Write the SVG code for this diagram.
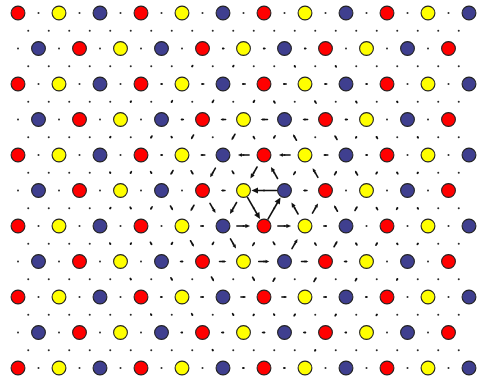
<svg xmlns="http://www.w3.org/2000/svg" xmlns:xlink="http://www.w3.org/1999/xlink" width="477" height="380" viewBox="0 0 477 380">
<style>
.R,.Y,.B{stroke:#222;stroke-width:1.1}
.R{fill:#ff0000}.Y{fill:#ffff00}.B{fill:#3f3f8f}
.dot{fill:#2a2a2a}
.sh{fill:none;stroke:#111;stroke-width:1.6;stroke-linecap:round;vector-effect:non-scaling-stroke}
.hd{fill:#111}
</style>
<defs>
<pattern id="dp" patternUnits="userSpaceOnUse" x="0" y="0" width="41" height="71">
<circle class="dot" cx="38.5" cy="13" r="1"/>
<circle class="dot" cx="28.25" cy="30.75" r="1"/>
<circle class="dot" cx="7.75" cy="30.75" r="1"/>
<circle class="dot" cx="18" cy="48.5" r="1"/>
<circle class="dot" cx="28.25" cy="66.25" r="1"/>
<circle class="dot" cx="7.75" cy="66.25" r="1"/>
</pattern>
<g id="a"><path class="sh" d="M-5 0H2"/><path class="hd" d="M5 0L1.4-1.6V1.6Z"/></g>
<g id="A"><path class="sh" d="M-5 0H3"/><path class="hd" d="M5 0L2.4-1.2V1.2Z"/></g>
</defs>
<rect width="477" height="380" fill="#fff"/>
<rect id="sites" x="15" y="9" width="447" height="363" fill="url(#dp)"/>
<g id="connectors">
<use href="#a" transform="translate(264 48.5) rotate(180) scale(.19)"/>
<use href="#a" transform="translate(223 48.5) rotate(180) scale(.165)"/>
<use href="#a" transform="translate(305 48.5) rotate(180) scale(.165)"/>
<use href="#a" transform="translate(243.5 84) rotate(180) scale(.34)"/>
<use href="#a" transform="translate(284.5 84) rotate(180) scale(.34)"/>
<use href="#a" transform="translate(202.5 84) rotate(180) scale(.243)"/>
<use href="#a" transform="translate(325.5 84) rotate(180) scale(.243)"/>
<use href="#a" transform="translate(161.5 84) rotate(180) scale(.136)"/>
<use href="#a" transform="translate(366.5 84) rotate(180) scale(.136)"/>
<use href="#a" transform="translate(264 119.5) rotate(180) scale(.688)"/>
<use href="#a" transform="translate(223 119.5) rotate(180) scale(.518)"/>
<use href="#a" transform="translate(305 119.5) rotate(180) scale(.518)"/>
<use href="#a" transform="translate(182 119.5) rotate(180) scale(.264)"/>
<use href="#a" transform="translate(346 119.5) rotate(180) scale(.264)"/>
<use href="#a" transform="translate(243.5 155) rotate(180) scale(1.114)"/>
<use href="#a" transform="translate(284.5 155) rotate(180) scale(1.114)"/>
<use href="#a" transform="translate(202.5 155) rotate(180) scale(.461)"/>
<use href="#a" transform="translate(325.5 155) rotate(180) scale(.461)"/>
<use href="#a" transform="translate(161.5 155) rotate(180) scale(.167)"/>
<use href="#a" transform="translate(366.5 155) rotate(180) scale(.167)"/>
<use href="#A" transform="translate(264 190.5) rotate(180) scale(2.5)"/>
<use href="#a" transform="translate(223 190.5) rotate(180) scale(.395)"/>
<use href="#a" transform="translate(305 190.5) rotate(180) scale(.395)"/>
<use href="#a" transform="translate(243.5 226) scale(1.327)"/>
<use href="#a" transform="translate(284.5 226) scale(1.327)"/>
<use href="#a" transform="translate(202.5 226) scale(.336)"/>
<use href="#a" transform="translate(325.5 226) scale(.336)"/>
<use href="#a" transform="translate(264 261.5) scale(1.057)"/>
<use href="#a" transform="translate(223 261.5) scale(.688)"/>
<use href="#a" transform="translate(305 261.5) scale(.688)"/>
<use href="#a" transform="translate(182 261.5) scale(.288)"/>
<use href="#a" transform="translate(346 261.5) scale(.288)"/>
<use href="#a" transform="translate(243.5 297) scale(.521)"/>
<use href="#a" transform="translate(284.5 297) scale(.521)"/>
<use href="#a" transform="translate(202.5 297) scale(.334)"/>
<use href="#a" transform="translate(325.5 297) scale(.334)"/>
<use href="#a" transform="translate(161.5 297) scale(.166)"/>
<use href="#a" transform="translate(366.5 297) scale(.166)"/>
<use href="#a" transform="translate(264 332.5) scale(.291)"/>
<use href="#a" transform="translate(223 332.5) scale(.247)"/>
<use href="#a" transform="translate(305 332.5) scale(.247)"/>
<use href="#a" transform="translate(182 332.5) scale(.16)"/>
<use href="#a" transform="translate(346 332.5) scale(.16)"/>
<use href="#a" transform="translate(243.5 368) scale(.147)"/>
<use href="#a" transform="translate(284.5 368) scale(.147)"/>
<use href="#a" transform="translate(233.25 66.25) rotate(120) scale(.166)"/>
<use href="#a" transform="translate(294.75 66.25) rotate(240) scale(.166)"/>
<use href="#a" transform="translate(192.25 66.25) rotate(120) scale(.16)"/>
<use href="#a" transform="translate(335.75 66.25) rotate(240) scale(.16)"/>
<use href="#a" transform="translate(253.75 101.75) rotate(120) scale(.288)"/>
<use href="#a" transform="translate(274.25 101.75) rotate(240) scale(.288)"/>
<use href="#a" transform="translate(212.75 101.75) rotate(120) scale(.334)"/>
<use href="#a" transform="translate(315.25 101.75) rotate(240) scale(.334)"/>
<use href="#a" transform="translate(171.75 101.75) rotate(120) scale(.247)"/>
<use href="#a" transform="translate(356.25 101.75) rotate(240) scale(.247)"/>
<use href="#a" transform="translate(130.75 101.75) rotate(120) scale(.148)"/>
<use href="#a" transform="translate(397.25 101.75) rotate(240) scale(.148)"/>
<use href="#a" transform="translate(253.75 137.25) rotate(240) scale(.336)"/>
<use href="#a" transform="translate(274.25 137.25) rotate(120) scale(.336)"/>
<use href="#a" transform="translate(233.25 137.25) rotate(120) scale(.688)"/>
<use href="#a" transform="translate(294.75 137.25) rotate(240) scale(.688)"/>
<use href="#a" transform="translate(192.25 137.25) rotate(120) scale(.521)"/>
<use href="#a" transform="translate(335.75 137.25) rotate(240) scale(.521)"/>
<use href="#a" transform="translate(171.75 137.25) rotate(60) scale(.167)"/>
<use href="#a" transform="translate(356.25 137.25) rotate(300) scale(.167)"/>
<use href="#a" transform="translate(151.25 137.25) rotate(120) scale(.291)"/>
<use href="#a" transform="translate(376.75 137.25) rotate(240) scale(.291)"/>
<use href="#a" transform="translate(110.25 137.25) rotate(120) scale(.148)"/>
<use href="#a" transform="translate(417.75 137.25) rotate(240) scale(.148)"/>
<use href="#a" transform="translate(253.75 172.75) rotate(120) scale(1.327)"/>
<use href="#a" transform="translate(274.25 172.75) rotate(240) scale(1.327)"/>
<use href="#a" transform="translate(233.25 172.75) rotate(60) scale(.396)"/>
<use href="#a" transform="translate(294.75 172.75) rotate(300) scale(.396)"/>
<use href="#a" transform="translate(212.75 172.75) rotate(120) scale(1.057)"/>
<use href="#a" transform="translate(315.25 172.75) rotate(240) scale(1.057)"/>
<use href="#a" transform="translate(192.25 172.75) rotate(60) scale(.461)"/>
<use href="#a" transform="translate(335.75 172.75) rotate(300) scale(.461)"/>
<use href="#a" transform="translate(171.75 172.75) rotate(120) scale(.521)"/>
<use href="#a" transform="translate(356.25 172.75) rotate(240) scale(.521)"/>
<use href="#a" transform="translate(151.25 172.75) rotate(60) scale(.264)"/>
<use href="#a" transform="translate(376.75 172.75) rotate(300) scale(.264)"/>
<use href="#a" transform="translate(130.75 172.75) rotate(120) scale(.247)"/>
<use href="#a" transform="translate(397.25 172.75) rotate(240) scale(.247)"/>
<use href="#a" transform="translate(110.25 172.75) rotate(60) scale(.136)"/>
<use href="#a" transform="translate(417.75 172.75) rotate(300) scale(.136)"/>
<use href="#A" transform="translate(253.75 208.25) rotate(60) scale(2.5)"/>
<use href="#A" transform="translate(274.25 208.25) rotate(300) scale(2.5)"/>
<use href="#a" transform="translate(233.25 208.25) rotate(120) scale(1.327)"/>
<use href="#a" transform="translate(294.75 208.25) rotate(240) scale(1.327)"/>
<use href="#a" transform="translate(212.75 208.25) rotate(60) scale(1.114)"/>
<use href="#a" transform="translate(315.25 208.25) rotate(300) scale(1.114)"/>
<use href="#a" transform="translate(192.25 208.25) rotate(120) scale(.688)"/>
<use href="#a" transform="translate(335.75 208.25) rotate(240) scale(.688)"/>
<use href="#a" transform="translate(171.75 208.25) rotate(60) scale(.518)"/>
<use href="#a" transform="translate(356.25 208.25) rotate(300) scale(.518)"/>
<use href="#a" transform="translate(151.25 208.25) rotate(120) scale(.334)"/>
<use href="#a" transform="translate(376.75 208.25) rotate(240) scale(.334)"/>
<use href="#a" transform="translate(130.75 208.25) rotate(60) scale(.243)"/>
<use href="#a" transform="translate(397.25 208.25) rotate(300) scale(.243)"/>
<use href="#a" transform="translate(110.25 208.25) rotate(120) scale(.16)"/>
<use href="#a" transform="translate(417.75 208.25) rotate(240) scale(.16)"/>
<use href="#a" transform="translate(253.75 243.75) rotate(300) scale(.396)"/>
<use href="#a" transform="translate(274.25 243.75) rotate(60) scale(.396)"/>
<use href="#a" transform="translate(233.25 243.75) rotate(60) scale(1.114)"/>
<use href="#a" transform="translate(294.75 243.75) rotate(300) scale(1.114)"/>
<use href="#a" transform="translate(212.75 243.75) rotate(120) scale(.336)"/>
<use href="#a" transform="translate(315.25 243.75) rotate(240) scale(.336)"/>
<use href="#a" transform="translate(192.25 243.75) rotate(60) scale(.688)"/>
<use href="#a" transform="translate(335.75 243.75) rotate(300) scale(.688)"/>
<use href="#a" transform="translate(171.75 243.75) rotate(120) scale(.288)"/>
<use href="#a" transform="translate(356.25 243.75) rotate(240) scale(.288)"/>
<use href="#a" transform="translate(151.25 243.75) rotate(60) scale(.341)"/>
<use href="#a" transform="translate(376.75 243.75) rotate(300) scale(.341)"/>
<use href="#a" transform="translate(130.75 243.75) rotate(120) scale(.166)"/>
<use href="#a" transform="translate(397.25 243.75) rotate(240) scale(.166)"/>
<use href="#a" transform="translate(110.25 243.75) rotate(60) scale(.164)"/>
<use href="#a" transform="translate(417.75 243.75) rotate(300) scale(.164)"/>
<use href="#a" transform="translate(253.75 279.25) rotate(60) scale(.461)"/>
<use href="#a" transform="translate(274.25 279.25) rotate(300) scale(.461)"/>
<use href="#a" transform="translate(212.75 279.25) rotate(60) scale(.518)"/>
<use href="#a" transform="translate(315.25 279.25) rotate(300) scale(.518)"/>
<use href="#a" transform="translate(171.75 279.25) rotate(60) scale(.341)"/>
<use href="#a" transform="translate(356.25 279.25) rotate(300) scale(.341)"/>
<use href="#a" transform="translate(130.75 279.25) rotate(60) scale(.189)"/>
<use href="#a" transform="translate(397.25 279.25) rotate(300) scale(.189)"/>
<use href="#a" transform="translate(253.75 314.75) rotate(300) scale(.167)"/>
<use href="#a" transform="translate(274.25 314.75) rotate(60) scale(.167)"/>
<use href="#a" transform="translate(233.25 314.75) rotate(60) scale(.264)"/>
<use href="#a" transform="translate(294.75 314.75) rotate(300) scale(.264)"/>
<use href="#a" transform="translate(192.25 314.75) rotate(60) scale(.243)"/>
<use href="#a" transform="translate(335.75 314.75) rotate(300) scale(.243)"/>
<use href="#a" transform="translate(151.25 314.75) rotate(60) scale(.164)"/>
<use href="#a" transform="translate(376.75 314.75) rotate(300) scale(.164)"/>
<use href="#a" transform="translate(212.75 350.25) rotate(60) scale(.136)"/>
<use href="#a" transform="translate(315.25 350.25) rotate(300) scale(.136)"/>
</g>
<g id="nodes">
<g id="n0-0"><circle class="R" cx="18" cy="13" r="6.9"/></g>
<g id="n0-1"><circle class="Y" cx="59" cy="13" r="6.9"/></g>
<g id="n0-2"><circle class="B" cx="100" cy="13" r="6.9"/></g>
<g id="n0-3"><circle class="R" cx="141" cy="13" r="6.9"/></g>
<g id="n0-4"><circle class="Y" cx="182" cy="13" r="6.9"/></g>
<g id="n0-5"><circle class="B" cx="223" cy="13" r="6.9"/></g>
<g id="n0-6"><circle class="R" cx="264" cy="13" r="6.9"/></g>
<g id="n0-7"><circle class="Y" cx="305" cy="13" r="6.9"/></g>
<g id="n0-8"><circle class="B" cx="346" cy="13" r="6.9"/></g>
<g id="n0-9"><circle class="R" cx="387" cy="13" r="6.9"/></g>
<g id="n0-10"><circle class="Y" cx="428" cy="13" r="6.9"/></g>
<g id="n0-11"><circle class="B" cx="469" cy="13" r="6.9"/></g>
<g id="n1-0"><circle class="B" cx="38.5" cy="48.5" r="6.9"/></g>
<g id="n1-1"><circle class="R" cx="79.5" cy="48.5" r="6.9"/></g>
<g id="n1-2"><circle class="Y" cx="120.5" cy="48.5" r="6.9"/></g>
<g id="n1-3"><circle class="B" cx="161.5" cy="48.5" r="6.9"/></g>
<g id="n1-4"><circle class="R" cx="202.5" cy="48.5" r="6.9"/></g>
<g id="n1-5"><circle class="Y" cx="243.5" cy="48.5" r="6.9"/></g>
<g id="n1-6"><circle class="B" cx="284.5" cy="48.5" r="6.9"/></g>
<g id="n1-7"><circle class="R" cx="325.5" cy="48.5" r="6.9"/></g>
<g id="n1-8"><circle class="Y" cx="366.5" cy="48.5" r="6.9"/></g>
<g id="n1-9"><circle class="B" cx="407.5" cy="48.5" r="6.9"/></g>
<g id="n1-10"><circle class="R" cx="448.5" cy="48.5" r="6.9"/></g>
<g id="n2-0"><circle class="R" cx="18" cy="84" r="6.9"/></g>
<g id="n2-1"><circle class="Y" cx="59" cy="84" r="6.9"/></g>
<g id="n2-2"><circle class="B" cx="100" cy="84" r="6.9"/></g>
<g id="n2-3"><circle class="R" cx="141" cy="84" r="6.9"/></g>
<g id="n2-4"><circle class="Y" cx="182" cy="84" r="6.9"/></g>
<g id="n2-5"><circle class="B" cx="223" cy="84" r="6.9"/></g>
<g id="n2-6"><circle class="R" cx="264" cy="84" r="6.9"/></g>
<g id="n2-7"><circle class="Y" cx="305" cy="84" r="6.9"/></g>
<g id="n2-8"><circle class="B" cx="346" cy="84" r="6.9"/></g>
<g id="n2-9"><circle class="R" cx="387" cy="84" r="6.9"/></g>
<g id="n2-10"><circle class="Y" cx="428" cy="84" r="6.9"/></g>
<g id="n2-11"><circle class="B" cx="469" cy="84" r="6.9"/></g>
<g id="n3-0"><circle class="B" cx="38.5" cy="119.5" r="6.9"/></g>
<g id="n3-1"><circle class="R" cx="79.5" cy="119.5" r="6.9"/></g>
<g id="n3-2"><circle class="Y" cx="120.5" cy="119.5" r="6.9"/></g>
<g id="n3-3"><circle class="B" cx="161.5" cy="119.5" r="6.9"/></g>
<g id="n3-4"><circle class="R" cx="202.5" cy="119.5" r="6.9"/></g>
<g id="n3-5"><circle class="Y" cx="243.5" cy="119.5" r="6.9"/></g>
<g id="n3-6"><circle class="B" cx="284.5" cy="119.5" r="6.9"/></g>
<g id="n3-7"><circle class="R" cx="325.5" cy="119.5" r="6.9"/></g>
<g id="n3-8"><circle class="Y" cx="366.5" cy="119.5" r="6.9"/></g>
<g id="n3-9"><circle class="B" cx="407.5" cy="119.5" r="6.9"/></g>
<g id="n3-10"><circle class="R" cx="448.5" cy="119.5" r="6.9"/></g>
<g id="n4-0"><circle class="R" cx="18" cy="155" r="6.9"/></g>
<g id="n4-1"><circle class="Y" cx="59" cy="155" r="6.9"/></g>
<g id="n4-2"><circle class="B" cx="100" cy="155" r="6.9"/></g>
<g id="n4-3"><circle class="R" cx="141" cy="155" r="6.9"/></g>
<g id="n4-4"><circle class="Y" cx="182" cy="155" r="6.9"/></g>
<g id="n4-5"><circle class="B" cx="223" cy="155" r="6.9"/></g>
<g id="n4-6"><circle class="R" cx="264" cy="155" r="6.9"/></g>
<g id="n4-7"><circle class="Y" cx="305" cy="155" r="6.9"/></g>
<g id="n4-8"><circle class="B" cx="346" cy="155" r="6.9"/></g>
<g id="n4-9"><circle class="R" cx="387" cy="155" r="6.9"/></g>
<g id="n4-10"><circle class="Y" cx="428" cy="155" r="6.9"/></g>
<g id="n4-11"><circle class="B" cx="469" cy="155" r="6.9"/></g>
<g id="n5-0"><circle class="B" cx="38.5" cy="190.5" r="6.9"/></g>
<g id="n5-1"><circle class="R" cx="79.5" cy="190.5" r="6.9"/></g>
<g id="n5-2"><circle class="Y" cx="120.5" cy="190.5" r="6.9"/></g>
<g id="n5-3"><circle class="B" cx="161.5" cy="190.5" r="6.9"/></g>
<g id="n5-4"><circle class="R" cx="202.5" cy="190.5" r="6.9"/></g>
<g id="n5-5"><circle class="Y" cx="243.5" cy="190.5" r="6.9"/></g>
<g id="n5-6"><circle class="B" cx="284.5" cy="190.5" r="6.9"/></g>
<g id="n5-7"><circle class="R" cx="325.5" cy="190.5" r="6.9"/></g>
<g id="n5-8"><circle class="Y" cx="366.5" cy="190.5" r="6.9"/></g>
<g id="n5-9"><circle class="B" cx="407.5" cy="190.5" r="6.9"/></g>
<g id="n5-10"><circle class="R" cx="448.5" cy="190.5" r="6.9"/></g>
<g id="n6-0"><circle class="R" cx="18" cy="226" r="6.9"/></g>
<g id="n6-1"><circle class="Y" cx="59" cy="226" r="6.9"/></g>
<g id="n6-2"><circle class="B" cx="100" cy="226" r="6.9"/></g>
<g id="n6-3"><circle class="R" cx="141" cy="226" r="6.9"/></g>
<g id="n6-4"><circle class="Y" cx="182" cy="226" r="6.9"/></g>
<g id="n6-5"><circle class="B" cx="223" cy="226" r="6.9"/></g>
<g id="n6-6"><circle class="R" cx="264" cy="226" r="6.9"/></g>
<g id="n6-7"><circle class="Y" cx="305" cy="226" r="6.9"/></g>
<g id="n6-8"><circle class="B" cx="346" cy="226" r="6.9"/></g>
<g id="n6-9"><circle class="R" cx="387" cy="226" r="6.9"/></g>
<g id="n6-10"><circle class="Y" cx="428" cy="226" r="6.9"/></g>
<g id="n6-11"><circle class="B" cx="469" cy="226" r="6.9"/></g>
<g id="n7-0"><circle class="B" cx="38.5" cy="261.5" r="6.9"/></g>
<g id="n7-1"><circle class="R" cx="79.5" cy="261.5" r="6.9"/></g>
<g id="n7-2"><circle class="Y" cx="120.5" cy="261.5" r="6.9"/></g>
<g id="n7-3"><circle class="B" cx="161.5" cy="261.5" r="6.9"/></g>
<g id="n7-4"><circle class="R" cx="202.5" cy="261.5" r="6.9"/></g>
<g id="n7-5"><circle class="Y" cx="243.5" cy="261.5" r="6.9"/></g>
<g id="n7-6"><circle class="B" cx="284.5" cy="261.5" r="6.9"/></g>
<g id="n7-7"><circle class="R" cx="325.5" cy="261.5" r="6.9"/></g>
<g id="n7-8"><circle class="Y" cx="366.5" cy="261.5" r="6.9"/></g>
<g id="n7-9"><circle class="B" cx="407.5" cy="261.5" r="6.9"/></g>
<g id="n7-10"><circle class="R" cx="448.5" cy="261.5" r="6.9"/></g>
<g id="n8-0"><circle class="R" cx="18" cy="297" r="6.9"/></g>
<g id="n8-1"><circle class="Y" cx="59" cy="297" r="6.9"/></g>
<g id="n8-2"><circle class="B" cx="100" cy="297" r="6.9"/></g>
<g id="n8-3"><circle class="R" cx="141" cy="297" r="6.9"/></g>
<g id="n8-4"><circle class="Y" cx="182" cy="297" r="6.9"/></g>
<g id="n8-5"><circle class="B" cx="223" cy="297" r="6.9"/></g>
<g id="n8-6"><circle class="R" cx="264" cy="297" r="6.9"/></g>
<g id="n8-7"><circle class="Y" cx="305" cy="297" r="6.9"/></g>
<g id="n8-8"><circle class="B" cx="346" cy="297" r="6.9"/></g>
<g id="n8-9"><circle class="R" cx="387" cy="297" r="6.9"/></g>
<g id="n8-10"><circle class="Y" cx="428" cy="297" r="6.9"/></g>
<g id="n8-11"><circle class="B" cx="469" cy="297" r="6.9"/></g>
<g id="n9-0"><circle class="B" cx="38.5" cy="332.5" r="6.9"/></g>
<g id="n9-1"><circle class="R" cx="79.5" cy="332.5" r="6.9"/></g>
<g id="n9-2"><circle class="Y" cx="120.5" cy="332.5" r="6.9"/></g>
<g id="n9-3"><circle class="B" cx="161.5" cy="332.5" r="6.9"/></g>
<g id="n9-4"><circle class="R" cx="202.5" cy="332.5" r="6.9"/></g>
<g id="n9-5"><circle class="Y" cx="243.5" cy="332.5" r="6.9"/></g>
<g id="n9-6"><circle class="B" cx="284.5" cy="332.5" r="6.9"/></g>
<g id="n9-7"><circle class="R" cx="325.5" cy="332.5" r="6.9"/></g>
<g id="n9-8"><circle class="Y" cx="366.5" cy="332.5" r="6.9"/></g>
<g id="n9-9"><circle class="B" cx="407.5" cy="332.5" r="6.9"/></g>
<g id="n9-10"><circle class="R" cx="448.5" cy="332.5" r="6.9"/></g>
<g id="n10-0"><circle class="R" cx="18" cy="368" r="6.9"/></g>
<g id="n10-1"><circle class="Y" cx="59" cy="368" r="6.9"/></g>
<g id="n10-2"><circle class="B" cx="100" cy="368" r="6.9"/></g>
<g id="n10-3"><circle class="R" cx="141" cy="368" r="6.9"/></g>
<g id="n10-4"><circle class="Y" cx="182" cy="368" r="6.9"/></g>
<g id="n10-5"><circle class="B" cx="223" cy="368" r="6.9"/></g>
<g id="n10-6"><circle class="R" cx="264" cy="368" r="6.9"/></g>
<g id="n10-7"><circle class="Y" cx="305" cy="368" r="6.9"/></g>
<g id="n10-8"><circle class="B" cx="346" cy="368" r="6.9"/></g>
<g id="n10-9"><circle class="R" cx="387" cy="368" r="6.9"/></g>
<g id="n10-10"><circle class="Y" cx="428" cy="368" r="6.9"/></g>
<g id="n10-11"><circle class="B" cx="469" cy="368" r="6.9"/></g>
</g>
</svg>
